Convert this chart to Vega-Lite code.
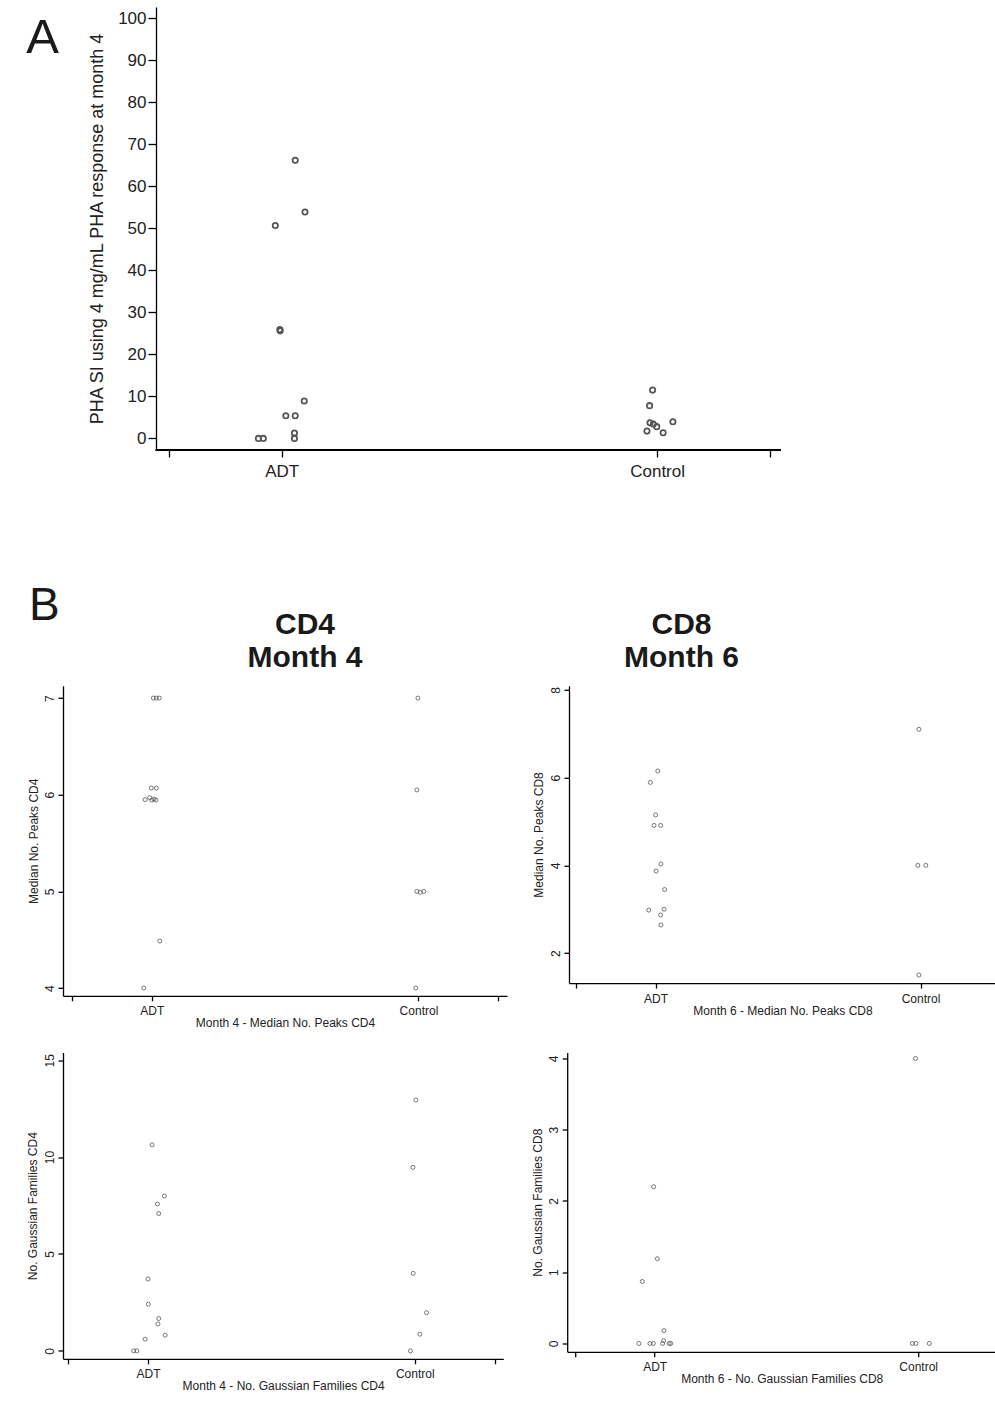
{
  "$schema": "https://vega.github.io/schema/vega-lite/v6.json",
  "background": "white",
  "padding": {"left": 26, "top": 7, "right": 0, "bottom": 0},
  "config": {
    "view": {"stroke": null},
    "font": "Liberation Sans",
    "axis": {"grid": false, "domainColor": "#000", "tickColor": "#000", "labelColor": "#222", "titleColor": "#222", "titleFontWeight": "normal", "labelFlush": false, "labelOverlap": false, "domainWidth": 1.3, "tickWidth": 1.3},
    "title": {"color": "#1a1a1a", "font": "Liberation Sans"},
    "point": {"shape": "circle", "filled": false, "color": "#555", "opacity": 1}
  },
  "datasets": {
    "A": [
      {"group": "ADT", "pos": 0.983, "value": 50.7},
      {"group": "ADT", "pos": 1.036, "value": 66.2},
      {"group": "ADT", "pos": 1.062, "value": 53.9},
      {"group": "ADT", "pos": 0.995, "value": 25.9},
      {"group": "ADT", "pos": 0.996, "value": 25.6},
      {"group": "ADT", "pos": 0.938, "value": 0},
      {"group": "ADT", "pos": 0.951, "value": 0},
      {"group": "ADT", "pos": 1.011, "value": 5.4},
      {"group": "ADT", "pos": 1.036, "value": 5.4},
      {"group": "ADT", "pos": 1.034, "value": 1.3},
      {"group": "ADT", "pos": 1.034, "value": 0},
      {"group": "ADT", "pos": 1.06, "value": 8.9},
      {"group": "Control", "pos": 1.988, "value": 11.5},
      {"group": "Control", "pos": 1.98, "value": 7.8},
      {"group": "Control", "pos": 2.042, "value": 3.95},
      {"group": "Control", "pos": 1.981, "value": 3.7},
      {"group": "Control", "pos": 1.99, "value": 3.4},
      {"group": "Control", "pos": 1.999, "value": 2.8},
      {"group": "Control", "pos": 1.973, "value": 1.74},
      {"group": "Control", "pos": 2.016, "value": 1.33}
    ],
    "B1": [
      {"group": "ADT", "pos": 1.006, "value": 7.0},
      {"group": "ADT", "pos": 1.017, "value": 7.0},
      {"group": "ADT", "pos": 1.028, "value": 7.0},
      {"group": "ADT", "pos": 0.998, "value": 6.07},
      {"group": "ADT", "pos": 1.017, "value": 6.068},
      {"group": "ADT", "pos": 0.975, "value": 5.95},
      {"group": "ADT", "pos": 0.992, "value": 5.97},
      {"group": "ADT", "pos": 1.0, "value": 5.945},
      {"group": "ADT", "pos": 1.008, "value": 5.955},
      {"group": "ADT", "pos": 1.016, "value": 5.945},
      {"group": "ADT", "pos": 1.03, "value": 4.486},
      {"group": "ADT", "pos": 0.97, "value": 4.0},
      {"group": "Control", "pos": 1.998, "value": 7.0},
      {"group": "Control", "pos": 1.994, "value": 6.05},
      {"group": "Control", "pos": 1.994, "value": 5.0},
      {"group": "Control", "pos": 2.007, "value": 4.99},
      {"group": "Control", "pos": 2.02, "value": 5.0},
      {"group": "Control", "pos": 1.99, "value": 4.0}
    ],
    "B2": [
      {"group": "ADT", "pos": 1.008, "value": 6.15},
      {"group": "ADT", "pos": 0.98, "value": 5.89},
      {"group": "ADT", "pos": 1.0, "value": 5.15},
      {"group": "ADT", "pos": 0.994, "value": 4.91},
      {"group": "ADT", "pos": 1.019, "value": 4.91},
      {"group": "ADT", "pos": 1.02, "value": 4.03},
      {"group": "ADT", "pos": 1.002, "value": 3.87},
      {"group": "ADT", "pos": 1.034, "value": 3.45},
      {"group": "ADT", "pos": 0.974, "value": 2.98},
      {"group": "ADT", "pos": 1.032, "value": 3.0},
      {"group": "ADT", "pos": 1.019, "value": 2.87},
      {"group": "ADT", "pos": 1.02, "value": 2.64},
      {"group": "Control", "pos": 1.994, "value": 7.1},
      {"group": "Control", "pos": 1.99, "value": 4.0},
      {"group": "Control", "pos": 2.02, "value": 4.0},
      {"group": "Control", "pos": 1.994, "value": 1.5}
    ],
    "B3": [
      {"group": "ADT", "pos": 1.015, "value": 10.63},
      {"group": "ADT", "pos": 1.061, "value": 7.99},
      {"group": "ADT", "pos": 1.035, "value": 7.58},
      {"group": "ADT", "pos": 1.04, "value": 7.09},
      {"group": "ADT", "pos": 1.0, "value": 3.71},
      {"group": "ADT", "pos": 1.001, "value": 2.41},
      {"group": "ADT", "pos": 1.04, "value": 1.67},
      {"group": "ADT", "pos": 1.037, "value": 1.39},
      {"group": "ADT", "pos": 1.064, "value": 0.81},
      {"group": "ADT", "pos": 0.989, "value": 0.6},
      {"group": "ADT", "pos": 0.946, "value": 0},
      {"group": "ADT", "pos": 0.958, "value": 0},
      {"group": "Control", "pos": 2.004, "value": 12.95},
      {"group": "Control", "pos": 1.993, "value": 9.47},
      {"group": "Control", "pos": 1.994, "value": 4.0},
      {"group": "Control", "pos": 2.044, "value": 1.97},
      {"group": "Control", "pos": 2.019, "value": 0.86},
      {"group": "Control", "pos": 1.984, "value": 0}
    ],
    "B4": [
      {"group": "ADT", "pos": 0.996, "value": 2.2},
      {"group": "ADT", "pos": 1.01, "value": 1.19},
      {"group": "ADT", "pos": 0.953, "value": 0.87},
      {"group": "ADT", "pos": 1.035, "value": 0.18},
      {"group": "ADT", "pos": 1.034, "value": 0.04},
      {"group": "ADT", "pos": 0.94, "value": 0},
      {"group": "ADT", "pos": 0.982, "value": 0},
      {"group": "ADT", "pos": 0.995, "value": 0},
      {"group": "ADT", "pos": 1.03, "value": 0},
      {"group": "ADT", "pos": 1.055, "value": 0},
      {"group": "ADT", "pos": 1.061, "value": 0},
      {"group": "Control", "pos": 1.99, "value": 4.0},
      {"group": "Control", "pos": 1.978, "value": 0},
      {"group": "Control", "pos": 1.991, "value": 0},
      {"group": "Control", "pos": 2.042, "value": 0}
    ]
  },
  "spacing": -20.2,
  "vconcat": [
    {
      "title": {"text": "B", "fontSize": 46, "fontWeight": "normal", "orient": "bottom", "anchor": "start", "frame": "group", "dx": -34, "baseline": "top", "offset": 104.7},
      "vconcat": [
        {
          "width": 718,
          "height": 443,
          "data": {"name": "A"},
          "title": {"text": "A", "fontSize": 49, "fontWeight": "normal", "orient": "left", "anchor": "end", "frame": "group", "angle": 0, "align": "left", "baseline": "alphabetic", "offset": 4, "dy": 46},
          "layer": [
            {
              "mark": {"type": "point", "size": 28, "strokeWidth": 1.8},
              "encoding": {
                "x": {"field": "pos", "type": "quantitative", "scale": {"domain": [0.4174, 2.33], "nice": false, "zero": false},
                  "axis": {"values": [0.7, 1, 2, 2.3], "labelExpr": "datum.value == 1 ? 'ADT' : datum.value == 2 ? 'Control' : ''", "title": null, "domain": false, "tickSize": 7, "labelFontSize": 17, "labelPadding": 6}},
                "y": {"field": "value", "type": "quantitative", "scale": {"domain": [-2.76, 102.7], "nice": false, "zero": false},
                  "axis": {"values": [0, 10, 20, 30, 40, 50, 60, 70, 80, 90, 100], "offset": -93, "title": "PHA SI using 4 mg/mL PHA response at month 4", "titleFontSize": 18, "labelFontSize": 17, "tickSize": 8, "labelPadding": 2, "titlePadding": 11}}
              }
            },
            {
              "mark": {"type": "rule", "color": "#000", "strokeWidth": 1.3},
              "encoding": {
                "x": {"datum": 0.665, "type": "quantitative"},
                "x2": {"datum": 2.33},
                "y": {"datum": -2.76, "type": "quantitative"}
              }
            }
          ]
        }
      ]
    },
    {
      "spacing": 23.7,
      "vconcat": [
        {
          "spacing": 25,
          "hconcat": [
            {
              "width": 444,
              "height": 310,
              "data": {"name": "B1"},
              "title": {"text": ["CD4", "Month 4"], "fontSize": 30, "fontWeight": "bold", "lineHeight": 33, "anchor": "middle", "dx": 20, "offset": 13.3},
              "mark": {"type": "point", "size": 16, "strokeWidth": 0.8},
              "encoding": {
                "x": {"field": "pos", "type": "quantitative", "scale": {"domain": [0.667, 2.332], "nice": false, "zero": false},
                  "axis": {"values": [0.7, 1, 2, 2.3], "labelExpr": "datum.value == 1 ? 'ADT' : datum.value == 2 ? 'Control' : ''", "title": "Month 4 - Median No. Peaks CD4", "tickSize": 5, "labelFontSize": 12, "titleFontSize": 12, "labelPadding": 5, "titlePadding": 1}},
                "y": {"field": "value", "type": "quantitative", "scale": {"domain": [3.92, 7.127], "nice": false, "zero": false},
                  "axis": {"values": [4, 5, 6, 7], "title": "Median No. Peaks CD4", "labelAngle": -90, "labelAlign": "center", "labelBaseline": "bottom", "tickSize": 5, "labelFontSize": 12, "titleFontSize": 12, "labelPadding": 2, "titlePadding": 3}}
              }
            },
            {
              "width": 427,
              "height": 297.3,
              "data": {"name": "B2"},
              "title": {"text": ["CD8", "Month 6"], "fontSize": 30, "fontWeight": "bold", "lineHeight": 33, "anchor": "middle", "dx": -101, "offset": 13.3},
              "mark": {"type": "point", "size": 16, "strokeWidth": 0.8},
              "encoding": {
                "x": {"field": "pos", "type": "quantitative", "scale": {"domain": [0.673, 2.285], "nice": false, "zero": false},
                  "axis": {"values": [0.7, 1, 2], "labelExpr": "datum.value == 1 ? 'ADT' : datum.value == 2 ? 'Control' : ''", "title": "Month 6 - Median No. Peaks CD8", "tickSize": 5, "labelFontSize": 12, "titleFontSize": 12, "labelPadding": 5, "titlePadding": 1}},
                "y": {"field": "value", "type": "quantitative", "scale": {"domain": [1.317, 8.091], "nice": false, "zero": false},
                  "axis": {"values": [2, 4, 6, 8], "title": "Median No. Peaks CD8", "labelAngle": -90, "labelAlign": "center", "labelBaseline": "bottom", "tickSize": 5, "labelFontSize": 12, "titleFontSize": 12, "labelPadding": 2, "titlePadding": 3.7}}
              }
            }
          ]
        },
        {
          "spacing": 27.2,
          "hconcat": [
            {
              "width": 440.3,
              "height": 306.3,
              "data": {"name": "B3"},
              "mark": {"type": "point", "size": 16, "strokeWidth": 0.8},
              "encoding": {
                "x": {"field": "pos", "type": "quantitative", "scale": {"domain": [0.681, 2.332], "nice": false, "zero": false},
                  "axis": {"values": [0.7, 1, 2, 2.3], "labelExpr": "datum.value == 1 ? 'ADT' : datum.value == 2 ? 'Control' : ''", "title": "Month 4 - No. Gaussian Families CD4", "tickSize": 5, "labelFontSize": 12, "titleFontSize": 12, "labelPadding": 5, "titlePadding": 1}},
                "y": {"field": "value", "type": "quantitative", "scale": {"domain": [-0.41, 15.4], "nice": false, "zero": false},
                  "axis": {"values": [0, 5, 10, 15], "title": "No. Gaussian Families CD4", "labelAngle": -90, "labelAlign": "center", "labelBaseline": "bottom", "tickSize": 5, "labelFontSize": 12, "titleFontSize": 12, "labelPadding": 2, "titlePadding": 3.3}}
              }
            },
            {
              "width": 429,
              "height": 299.3,
              "data": {"name": "B4"},
              "mark": {"type": "point", "size": 16, "strokeWidth": 0.8},
              "encoding": {
                "x": {"field": "pos", "type": "quantitative", "scale": {"domain": [0.668, 2.296], "nice": false, "zero": false},
                  "axis": {"values": [0.7, 1, 2], "labelExpr": "datum.value == 1 ? 'ADT' : datum.value == 2 ? 'Control' : ''", "title": "Month 6 - No. Gaussian Families CD8", "tickSize": 5, "labelFontSize": 12, "titleFontSize": 12, "labelPadding": 5, "titlePadding": 1}},
                "y": {"field": "value", "type": "quantitative", "scale": {"domain": [-0.117, 4.084], "nice": false, "zero": false},
                  "axis": {"values": [0, 1, 2, 3, 4], "title": "No. Gaussian Families CD8", "labelAngle": -90, "labelAlign": "center", "labelBaseline": "bottom", "tickSize": 5, "labelFontSize": 12, "titleFontSize": 12, "labelPadding": 2, "titlePadding": 2.3}}
              }
            }
          ]
        }
      ]
    }
  ]
}
